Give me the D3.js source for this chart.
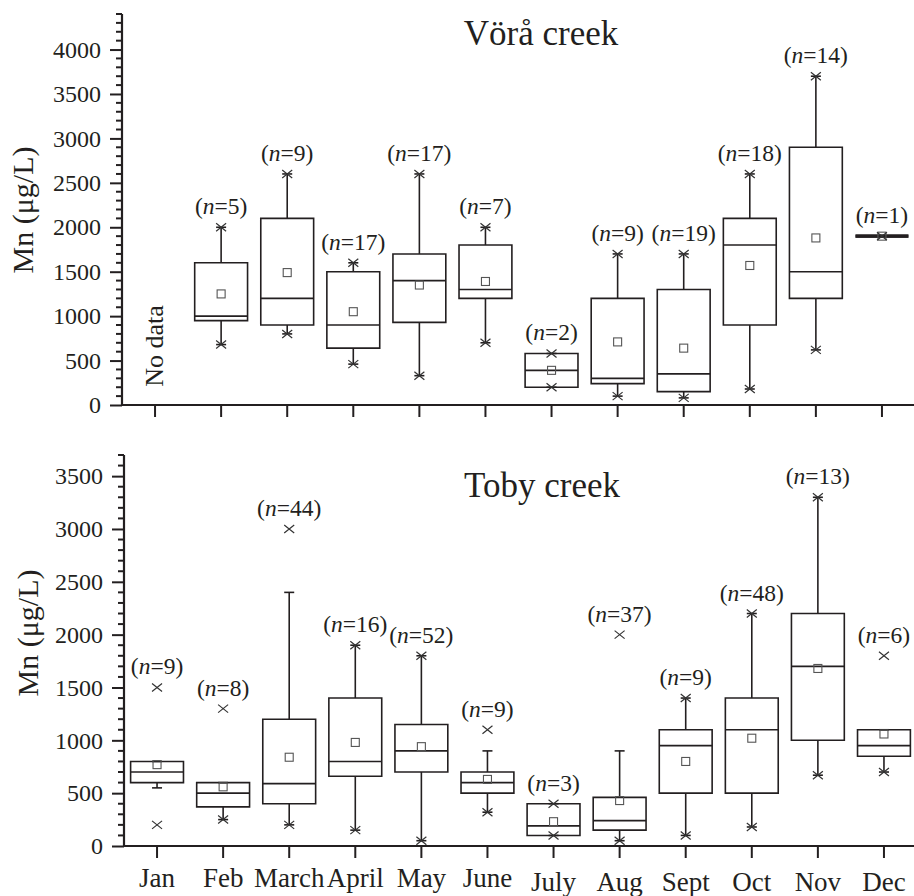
<!DOCTYPE html>
<html><head><meta charset="utf-8">
<script src="https://cdn.jsdelivr.net/npm/d3@7"></script>
<style>
body{margin:0;background:#fff}
svg{display:block;background:#fff}
text{font-family:"Liberation Serif","Times New Roman",serif;fill:#231f20}
</style>
</head><body>
<svg id="c" width="914" height="896" font-family="Liberation Serif, Times New Roman, serif"></svg>
<script>
// ---- data ----
const months = ["Jan","Feb","March","April","May","June","July","Aug","Sept","Oct","Nov","Dec"];

// Vörå creek (Jan: no data)
const voraN    = [null,5,9,17,17,7,2,9,19,18,14,1];
const voraLo   = [null,680,800,460,330,700,200,100,80,180,620,1900];
const voraQ1   = [null,950,900,640,930,1200,200,240,150,900,1200,1900];
const voraMed  = [null,1000,1200,900,1400,1300,390,300,350,1800,1500,1900];
const voraQ3   = [null,1600,2100,1500,1700,1800,580,1200,1300,2100,2900,1900];
const voraHi   = [null,2000,2600,1600,2600,2000,580,1700,1700,2600,3700,1900];
const voraMean = [null,1250,1490,1050,1350,1390,390,710,640,1570,1880,1900];
const voraX    = [[],[680,2000],[800,2600],[460,1600],[330,2600],[700,2000],[200,580],[100,1700],[80,1700],[180,2600],[620,3700],[1900]];

// Toby creek
const tobyN    = [9,8,44,16,52,9,3,37,9,48,13,6];
const tobyLo   = [550,250,200,150,50,320,100,50,100,180,670,700];
const tobyQ1   = [600,370,400,660,700,500,100,150,500,500,1000,850];
const tobyMed  = [700,500,590,800,900,600,190,240,950,1100,1700,950];
const tobyQ3   = [800,600,1200,1400,1150,700,400,460,1100,1400,2200,1100];
const tobyHi   = [800,600,2400,1900,1800,900,400,900,1400,2200,3300,1100];
const tobyMean = [770,560,840,980,940,630,230,430,800,1020,1680,1060];
const tobyX    = [[200,1500],[250,1300],[200,3000],[150,1900],[50,1800],[320,1100],[100,400],[50,2000],[100,1400],[180,2200],[670,3300],[700,1800]];

const voraTicks = [0,500,1000,1500,2000,2500,3000,3500,4000];
const tobyTicks = [0,500,1000,1500,2000,2500,3000,3500];

// ---- drawing ----
const svg = d3.select("#c");
const ink = "#231f20";

function panel(cfg){
  const g = svg.append("g");
  const x = d3.scaleBand().domain(months).range(cfg.xr).paddingInner(0).paddingOuter(0);
  const y = d3.scaleLinear().domain([0, cfg.ymax]).range(cfg.yr);
  const bw = x.bandwidth()*0.8;
  const xc = m => x(m) + x.bandwidth()/2;

  // minor ticks
  const minor = d3.range(0, cfg.ymax+1, 100).filter(v => v % 500 !== 0);
  g.selectAll(".mn").data(minor).join("line")
    .attr("x1", cfg.xr[0]-6).attr("x2", cfg.xr[0])
    .attr("y1", d=>y(d)).attr("y2", d=>y(d))
    .attr("stroke", ink).attr("stroke-width", 2);

  // y axis
  const ya = g.append("g").attr("transform", `translate(${cfg.xr[0]},0)`)
    .call(d3.axisLeft(y).tickValues(cfg.ticks).tickSize(12).tickPadding(9).tickFormat(d3.format("d")));
  ya.attr("font-family", null).attr("font-size", null);
  ya.select(".domain").attr("d", `M-0,${cfg.yr[0]}V${cfg.yr[1]}`).attr("stroke", ink).attr("stroke-width", 2.2);
  ya.selectAll(".tick line").attr("stroke", ink).attr("stroke-width", 2);
  ya.selectAll(".tick text").attr("font-size", 24).attr("fill", ink);

  // x axis
  const xa = g.append("g").attr("transform", `translate(0,${cfg.yr[0]})`)
    .call(d3.axisBottom(x).tickSize(12).tickPadding(10).tickFormat(cfg.xlabels ? (d=>d) : ""));
  xa.attr("font-family", null).attr("font-size", null);
  xa.select(".domain").attr("d", `M${cfg.xr[0]},0H914`).attr("stroke", ink).attr("stroke-width", 2.2);
  xa.selectAll(".tick line").attr("stroke", ink).attr("stroke-width", 2);
  xa.selectAll(".tick text").attr("font-size", 27).attr("fill", ink)
    .attr("transform", (d,i) => i >= 6 ? "translate(0,4)" : null);

  // title
  g.append("text").attr("x", cfg.titleX).attr("y", cfg.titleY).attr("text-anchor","middle")
    .attr("font-size", 35).text(cfg.title);
  // y label
  g.append("text").attr("transform", `translate(${cfg.ylabX},${cfg.ylabY}) rotate(-90)`)
    .attr("text-anchor","middle").attr("font-size", 30).text("Mn (μg/L)");

  months.forEach((m,i) => {
    if (cfg.n[i] == null) return;
    const cx = xc(m);
    const lo = cfg.lo[i], hi = cfg.hi[i], q1 = cfg.q1[i], q3 = cfg.q3[i], med = cfg.med[i], mean = cfg.mean[i];
    const bg = g.append("g");
    // whiskers
    bg.append("line").attr("x1",cx).attr("x2",cx).attr("y1",y(q3)).attr("y2",y(hi)).attr("stroke",ink).attr("stroke-width",1.6);
    bg.append("line").attr("x1",cx).attr("x2",cx).attr("y1",y(q1)).attr("y2",y(lo)).attr("stroke",ink).attr("stroke-width",1.6);
    // caps
    [lo,hi].forEach(v => bg.append("line").attr("x1",cx-5).attr("x2",cx+5).attr("y1",y(v)).attr("y2",y(v)).attr("stroke",ink).attr("stroke-width",1.6));
    // box
    const flat = q1 === q3;
    bg.append("path")
      .attr("d", `M${cx-bw/2},${y(q3)}H${cx+bw/2}V${y(q1)}H${cx-bw/2}Z`)
      .attr("fill","none").attr("stroke",ink).attr("stroke-width", flat ? 3.2 : 1.6);
    bg.append("line").attr("x1",cx-bw/2).attr("x2",cx+bw/2).attr("y1",y(med)).attr("y2",y(med))
      .attr("stroke",ink).attr("stroke-width", flat ? 3.2 : 1.6);
    // mean
    bg.append("rect").attr("x",cx-4).attr("y",y(mean)-4).attr("width",8).attr("height",8)
      .attr("fill","none").attr("stroke","#555").attr("stroke-width",1.1);
    // x markers
    cfg.xm[i].forEach(v => {
      const yy = y(v);
      bg.append("path").attr("d", `M${cx-5},${yy-4}L${cx+5},${yy+4}M${cx-5},${yy+4}L${cx+5},${yy-4}`)
        .attr("stroke","#333").attr("stroke-width",1.2).attr("fill","none");
    });
    // n label
    const top = Math.max(hi, ...cfg.xm[i]);
    const t = bg.append("text").attr("x", cx).attr("y", y(top) - 13).attr("text-anchor","middle").attr("font-size", 23.5);
    t.append("tspan").text("(");
    t.append("tspan").attr("font-style","italic").text("n");
    t.append("tspan").text("=" + cfg.n[i] + ")");
  });

  if (cfg.noData){
    g.append("text").attr("transform", `translate(${xc(months[0])+8},346) rotate(-90)`)
      .attr("text-anchor","middle").attr("font-size", 26).text("No data");
  }
}

panel({xr:[122,915], yr:[405,14], ymax:4400, ticks:voraTicks, xlabels:false,
  title:"Vörå creek", titleX:541, titleY:45, ylabX:33, ylabY:210,
  n:voraN, lo:voraLo, q1:voraQ1, med:voraMed, q3:voraQ3, hi:voraHi, mean:voraMean, xm:voraX, noData:true});

panel({xr:[124,917], yr:[846,455], ymax:3700, ticks:tobyTicks, xlabels:true,
  title:"Toby creek", titleX:542, titleY:497, ylabX:38, ylabY:633,
  n:tobyN, lo:tobyLo, q1:tobyQ1, med:tobyMed, q3:tobyQ3, hi:tobyHi, mean:tobyMean, xm:tobyX, noData:false});
</script>
</body></html>
